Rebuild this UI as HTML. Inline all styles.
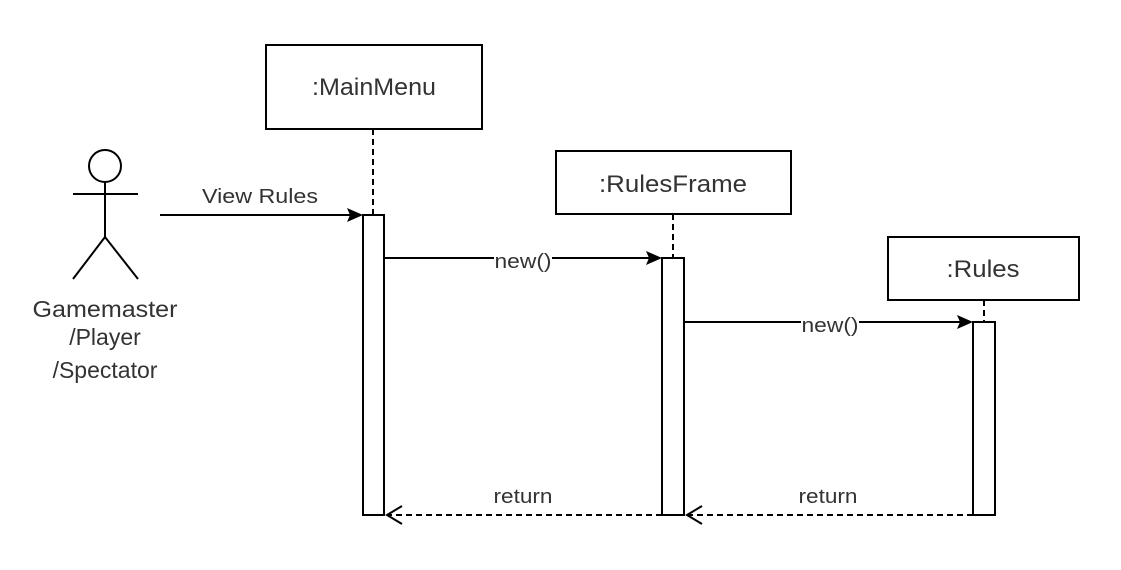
<!DOCTYPE html>
<html><head><meta charset="utf-8"><style>
html,body{margin:0;padding:0;background:#fff;}
svg{display:block;}
text{font-family:"Liberation Sans",Arial,sans-serif;fill:#333;}
</style></head><body>
<svg width="1121" height="570" viewBox="0 0 1121 570" xmlns="http://www.w3.org/2000/svg">
<g stroke="#000" stroke-width="2" fill="#fff">
<rect x="266" y="45" width="216" height="84"/>
<rect x="556" y="151" width="235" height="63"/>
<rect x="888" y="237" width="191" height="63"/>
</g>
<text x="374" y="95" font-size="24" text-anchor="middle" textLength="124" lengthAdjust="spacingAndGlyphs">:MainMenu</text>
<text x="673" y="192" font-size="24" text-anchor="middle" textLength="148" lengthAdjust="spacingAndGlyphs">:RulesFrame</text>
<text x="983" y="277" font-size="24" text-anchor="middle" textLength="73" lengthAdjust="spacingAndGlyphs">:Rules</text>
<g stroke="#000" stroke-width="2" stroke-dasharray="6,4">
<line x1="373" y1="129" x2="373" y2="215"/>
<line x1="673" y1="214" x2="673" y2="258"/>
<line x1="984" y1="300" x2="984" y2="322"/>
</g>
<g stroke="#000" stroke-width="2" fill="#fff">
<rect x="363" y="215" width="21" height="300"/>
<rect x="662" y="258" width="22" height="257"/>
<rect x="973" y="322" width="22" height="193"/>
</g>
<!-- actor -->
<g stroke="#000" stroke-width="2" fill="none">
<circle cx="105" cy="166" r="16"/>
<line x1="105" y1="182" x2="105" y2="237"/>
<line x1="73" y1="194" x2="138" y2="194"/>
<line x1="105" y1="237" x2="73" y2="279"/>
<line x1="105" y1="237" x2="138" y2="279"/>
</g>
<text x="105" y="317" font-size="23" text-anchor="middle" textLength="145" lengthAdjust="spacingAndGlyphs">Gamemaster</text>
<text x="105" y="345" font-size="23" text-anchor="middle">/Player</text>
<text x="105" y="378" font-size="23" text-anchor="middle">/Spectator</text>
<!-- messages -->
<g stroke="#000" stroke-width="2" fill="none">
<line x1="160" y1="215" x2="350" y2="215"/>
<line x1="384" y1="258" x2="650" y2="258"/>
<line x1="684" y1="322" x2="961" y2="322"/>
<line x1="662" y1="515" x2="388" y2="515" stroke-dasharray="6,4"/>
<line x1="973" y1="515" x2="688" y2="515" stroke-dasharray="6,4"/>
<path d="M402,506 L387,515 L402,524"/>
<path d="M702,506 L687,515 L702,524"/>
</g>
<g fill="#000">
<path d="M347,208 L363,215 L347,222 L350,215 Z"/>
<path d="M646,251 L662,258 L646,265 L649,258 Z"/>
<path d="M957,315 L973,322 L957,329 L960,322 Z"/>
</g>
<text x="260" y="203" font-size="20" text-anchor="middle" textLength="116" lengthAdjust="spacingAndGlyphs">View Rules</text>
<rect x="494" y="248" width="58" height="22" fill="#fff"/>
<text x="523" y="268" font-size="20" text-anchor="middle" textLength="57" lengthAdjust="spacingAndGlyphs">new()</text>
<rect x="801" y="312" width="58" height="22" fill="#fff"/>
<text x="830" y="332" font-size="20" text-anchor="middle" textLength="57" lengthAdjust="spacingAndGlyphs">new()</text>
<text x="523" y="503" font-size="20" text-anchor="middle" textLength="59" lengthAdjust="spacingAndGlyphs">return</text>
<text x="828" y="503" font-size="20" text-anchor="middle" textLength="59" lengthAdjust="spacingAndGlyphs">return</text>
</svg>
</body></html>
